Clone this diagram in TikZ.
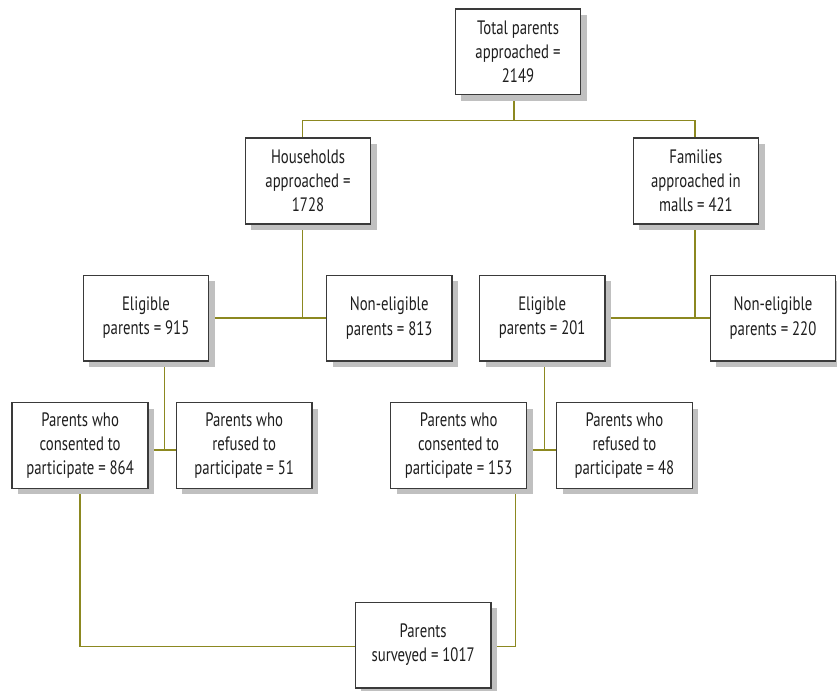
\documentclass[tikz,border=0pt]{standalone}
\usepackage{fontspec}
\setmainfont{PT Sans}[FakeStretch=0.76]
\usetikzlibrary{backgrounds,calc}
\definecolor{connc}{RGB}{140,136,32}
\definecolor{bordc}{RGB}{58,58,58}
\definecolor{shadc}{RGB}{192,192,192}
\definecolor{txtc}{RGB}{30,30,30}
\newcommand\fbx[4]{%
  \node[#2, fill=shadc, draw=none] (#1-sh) at ($(#3)+(6,6)$) {};
  \node[#2] (#1) at (#3) {#4};}
\begin{document}
\begin{tikzpicture}[x=1bp,y=-1bp,
  box/.style={draw=bordc, line width=1.4bp, fill=white, rectangle, inner sep=0pt,
    minimum width=125.4bp, minimum height=85.6bp, align=center, text=txtc,
    font=\fontsize{19.5}{24.2}\selectfont},
  wbox/.style={box, minimum width=135.8bp},
  conn/.style={draw=connc, line width=1.3bp}]
\useasboundingbox (0,0) rectangle (837,691);
% nodes with shadows
\fbx{tot}{box}{518,52}{Total parents\\approached =\\2149}
\fbx{hh}{box}{308,181}{Households\\approached =\\1728}
\fbx{fam}{box}{695.9,181}{Families\\approached in\\malls = 421}
\fbx{e1}{box}{146,318}{Eligible\\parents = 915}
\fbx{ne1}{box}{389.2,318}{Non-eligible\\parents = 813}
\fbx{e2}{box}{542.2,318}{Eligible\\parents = 201}
\fbx{ne2}{box}{773,318}{Non-eligible\\parents = 220}
\fbx{c1}{wbox}{80.1,445.5}{Parents who\\consented to\\participate = 864}
\fbx{r1}{wbox}{244.2,445.5}{Parents who\\refused to\\participate = 51}
\fbx{c2}{wbox}{458.6,445.5}{Parents who\\consented to\\participate = 153}
\fbx{r2}{wbox}{624.4,445.5}{Parents who\\refused to\\participate = 48}
\fbx{sv}{wbox}{423.1,645}{Parents\\surveyed = 1017}
% connectors
\begin{pgfonlayer}{background}
\coordinate (j1) at (514,120.5);
\draw[conn] (tot.south -| j1) -- (j1);
\draw[conn] ([xshift=-5.3bp]hh.north) |- (j1) -| ([xshift=-0.9bp]fam.north);
\draw[conn] ([xshift=-5.3bp]hh.south) -- ([xshift=-5.3bp]hh.south |- e1.east);
\draw[conn] (e1.east) -- (ne1.west);
\draw[conn] ([xshift=-0.9bp]fam.south) -- ([xshift=-0.9bp]fam.south |- e2.east);
\draw[conn] (e2.east) -- (ne2.west);
\draw[conn] ([xshift=18.6bp]e1.south) -- ([xshift=18.6bp,yshift=-4.5bp]e1.south |- c1.east);
\draw[conn] ([yshift=-4.5bp]c1.east) -- ([yshift=-4.5bp]r1.west);
\draw[conn] ([xshift=2.4bp]e2.south) -- ([xshift=2.4bp,yshift=-4.5bp]e2.south |- c2.east);
\draw[conn] ([yshift=-4.5bp]c2.east) -- ([yshift=-4.5bp]r2.west);
\draw[conn] (c1.south) |- ([yshift=-1.7bp]sv.west);
\draw[conn] ([xshift=56.6bp]c2.south) |- ([yshift=-1.7bp]sv.east);
\end{pgfonlayer}
\end{tikzpicture}
\end{document}
